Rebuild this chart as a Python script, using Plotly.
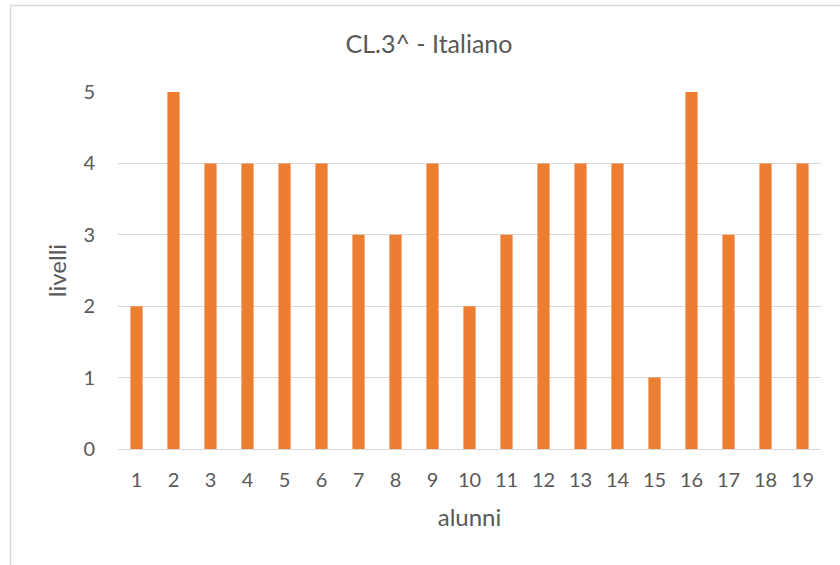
import plotly.graph_objects as go

alunni = [str(i) for i in range(1, 20)]
livelli = [2, 5, 4, 4, 4, 4, 3, 3, 4, 2, 3, 4, 4, 4, 1, 5, 3, 4, 4]
y_ticks = [0, 1, 2, 3, 4, 5]

W, H = 840, 565
L, R, T, B = 118, 19, 92, 116
pw, ph = W - L - R, H - T - B

def px(x):
    return (x - L) / pw

def py(y):
    return (H - B - y) / ph

fig = go.Figure(go.Bar(x=alunni, y=livelli, marker=dict(color="#ED7D31", line=dict(width=0)),
                       hoverinfo="x+y"))

font = "Lato, Carlito, Open Sans, sans-serif"
fig.update_layout(
    width=W, height=H,
    margin=dict(l=L, r=R, t=T, b=B, pad=0),
    paper_bgcolor="white", plot_bgcolor="white",
    bargap=0.67,
    showlegend=False,
    font=dict(family=font, color="#595959", size=20),
    title=dict(text="CL.3^ - Italiano", xref="container", yref="container",
               x=429 / W, xanchor="center", y=1 - 44 / H, yanchor="middle",
               font=dict(size=25, color="#595959", family=font)),
    xaxis=dict(type="category", showgrid=False, showline=True, linecolor="#D9D9D9", linewidth=1,
               ticks="", ticklabelstandoff=13, tickfont=dict(size=20),
               title=dict(text="alunni", font=dict(size=24), standoff=19)),
    yaxis=dict(range=[0, 5], tickvals=y_ticks, showgrid=True, gridcolor="#D9D9D9", gridwidth=1,
               zeroline=False, showline=False, ticks="", ticklabelstandoff=22, tickfont=dict(size=20),
               title=dict(text="livelli", font=dict(size=24), standoff=9)),
    shapes=[
        dict(type="line", xref="paper", yref="paper", x0=px(10.5), x1=px(841), y0=py(5.5), y1=py(5.5),
             line=dict(color="#D9D9D9", width=1.5)),
        dict(type="line", xref="paper", yref="paper", x0=px(10.5), x1=px(10.5), y0=py(5.5), y1=py(566),
             line=dict(color="#D9D9D9", width=1.5)),
    ],
)

fig.write_html("out.html", config={"displayModeBar": False},
               post_script="document.body.style.margin='0';document.body.style.overflow='hidden';")
